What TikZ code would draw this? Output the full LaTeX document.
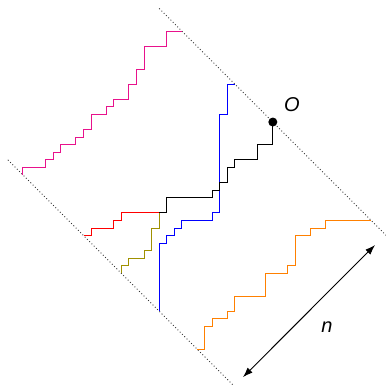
\documentclass[tikz,border=0pt]{standalone}
\usepackage{fontspec}
\setmainfont{Liberation Sans}
\usetikzlibrary{arrows.meta}
\definecolor{pinkc}{RGB}{232,18,140}
\definecolor{redc}{RGB}{255,0,0}
\definecolor{olivec}{RGB}{160,145,0}
\definecolor{bluec}{RGB}{0,0,255}
\definecolor{orangec}{RGB}{255,128,0}
\tikzset{
  pathline/.style={line width=1pt, line join=miter},
  bound/.style={line width=0.9pt, dash pattern=on 0.9pt off 2.3pt, black!80},
  lbl/.style={font=\fontsize{20}{24}\selectfont\itshape, inner sep=0pt},
  dimarrow/.style={line width=0.9pt, {Latex[length=10pt,width=7pt]}-{Latex[length=10pt,width=7pt]}}
}
\begin{document}
\begin{tikzpicture}[x=7.57pt,y=7.57pt]
\useasboundingbox (-3.038,-27.74) rectangle (47.95,23.12);
\clip (-3.038,-27.74) rectangle (47.95,23.12);
% boundary lines
\coordinate (u1) at (18,22);
\coordinate (u2) at (48.5,-8.5);
\coordinate (l1) at (-2,2);
\coordinate (l2) at (27.8,-27.8);
\draw[bound] (u1) -- (u2);
\draw[bound] (l1) -- (l2);
% start points
\coordinate (p0) at (0,0);
\coordinate (r0) at (8,-8);
\coordinate (o0) at (13,-13);
\coordinate (b0) at (18,-18);
\coordinate (g0) at (23,-23);
\coordinate (J) at (18,-5);
% pink
\draw[pathline, pinkc] (p0) -- ++(0,1) -- ++(3,0) -- ++(0,1) -- ++(1,0) -- ++(0,1) -- ++(1,0) -- ++(0,1) -- ++(2,0) -- ++(0,1) -- ++(1,0) -- ++(0,1) -- ++(1,0) -- ++(0,2) -- ++(2,0) -- ++(0,1) -- ++(1,0) -- ++(0,1) -- ++(2,0) -- ++(0,2) -- ++(1,0) -- ++(0,2) -- ++(1,0) -- ++(0,3) -- ++(3,0) -- ++(0,2) -- ++(2,0);
% red
\draw[pathline, redc] (r0) -- (9,-8) -- (9,-7) -- (12,-7) -- (12,-6) -- (13,-6) -- (13,-5) -- (J);
% olive
\draw[pathline, olivec] (o0) -- (13,-12) -- (14,-12) -- (14,-11) -- (16,-11) -- (16,-10) -- (17,-10) -- (17,-7) -- (18,-7) -- (J);
% blue
\draw[pathline, bluec] (b0) -- (18,-9) -- (19,-9) -- (19,-8) -- (20,-8) -- (20,-7) -- (21,-7) -- (21,-6) -- (25,-6) -- (25,-5) -- (26,-5) -- (26,8) -- (27,8) -- (27,12) -- (28,12);
% orange
\draw[pathline, orangec] (g0) -- (24,-23) -- (24,-20) -- (25,-20) -- (25,-19) -- (27,-19) -- (27,-18) -- (28,-18) -- (28,-16) -- (32,-16) -- (32,-13) -- (35,-13) -- (35,-12) -- (36,-12) -- (36,-8) -- (38,-8) -- (38,-7) -- (40,-7) -- (40,-6) -- (46,-6);
% black
\node[circle, fill=black, inner sep=0pt, minimum size=9pt] (O) at (33,7) {};
\draw[pathline, black] (J) -- (19,-5) -- (19,-3) -- (25,-3) -- (25,-2) -- (26,-2) -- (26,-1) -- (27,-1) -- (27,1) -- (28,1) -- (28,2) -- (31,2) -- (31,4) -- (33,4) -- (O.center);
\node[lbl] (Olab) at (35.53,9.25) {O};
% dimension arrow
\coordinate (a1) at (29.06,-26.7);
\coordinate (a2) at (46.5,-9.25);
\draw[dimarrow] (a1) -- (a2);
\node[lbl] (nlab) at (40.16,-20.08) {n};
\end{tikzpicture}
\end{document}
